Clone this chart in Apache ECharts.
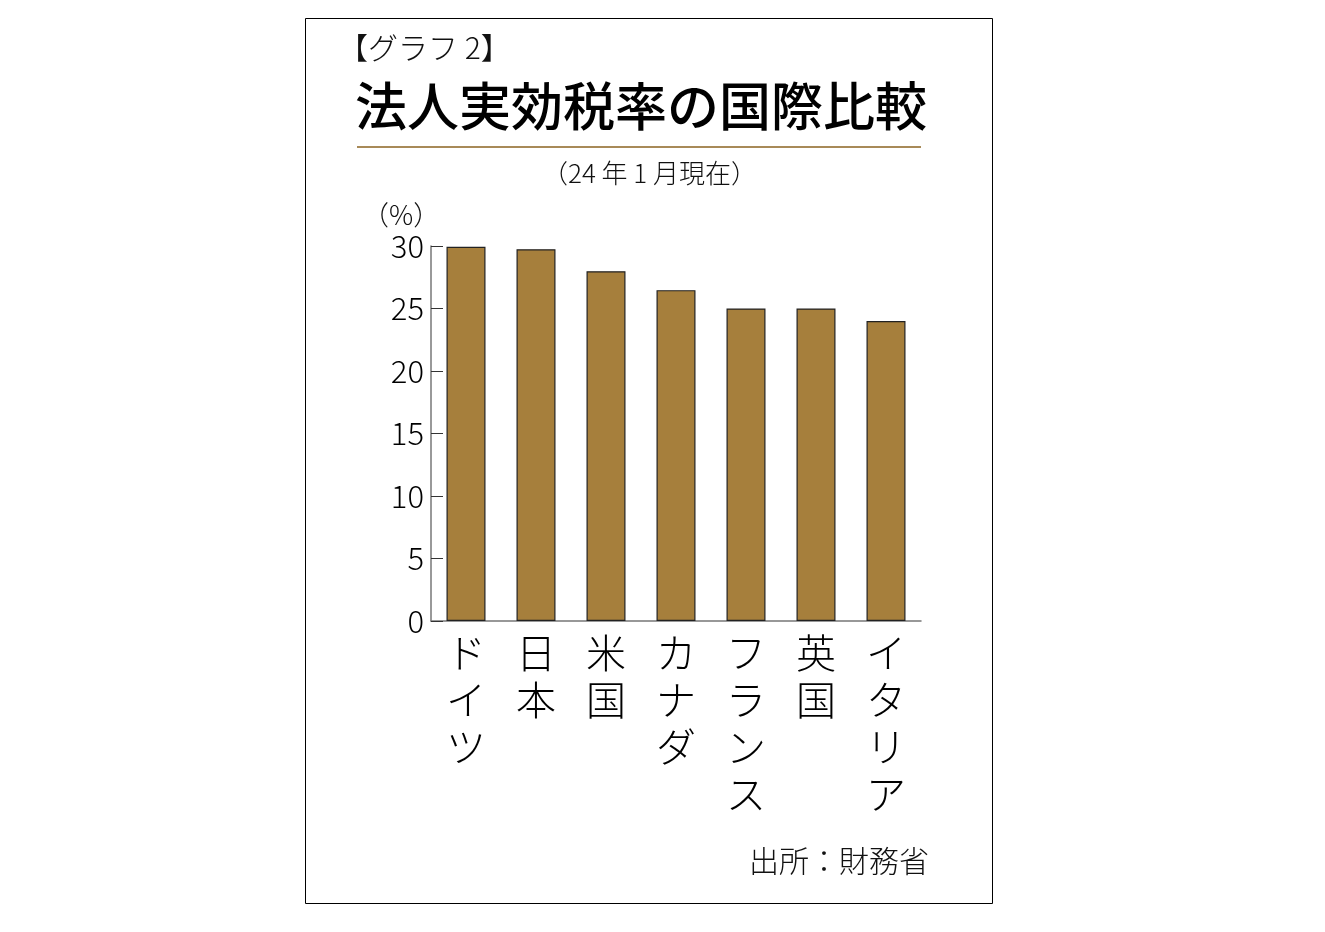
<!DOCTYPE html>
<html>
<head>
<meta charset="utf-8">
<script src="https://cdn.jsdelivr.net/npm/echarts@6/dist/echarts.min.js"></script>
<style>
  html, body { margin: 0; padding: 0; background: #fff; }
  #chart { width: 1325px; height: 932px; }
</style>
</head>
<body>
<div id="chart"></div>
<script>
// --- データ ---
const countries = ['ドイツ', '日本', '米国', 'カナダ', 'フランス', '英国', 'イタリア'];
const taxRates = [29.94, 29.74, 27.98, 26.47, 25.0, 25.0, 24.0];
const yTicks = { min: 0, max: 30, step: 5 };

const FONT = '"Noto Sans CJK JP", "Noto Sans", sans-serif';
const chart = echarts.init(document.getElementById('chart'));

chart.setOption({
  animation: false,
  backgroundColor: '#fff',
  grid: { left: 431, right: 404, top: 246, bottom: 311 },
  graphic: [
    { type: 'rect', shape: { x: 305.5, y: 18.5, width: 687, height: 885 },
      style: { fill: 'none', stroke: '#000', lineWidth: 1 } },
    { type: 'text', left: 338, top: 33,
      style: { text: '【グラフ 2】', font: '300 30px ' + FONT, fill: '#111' } },
    { type: 'text', left: 355, top: 80,
      style: { text: '法人実効税率の国際比較', font: '500 52px ' + FONT, fill: '#000' } },
    { type: 'line', shape: { x1: 357, y1: 147, x2: 921, y2: 147 },
      style: { stroke: '#A88A58', lineWidth: 2 } },
    { type: 'text', left: 542, top: 160,
      style: { text: '（24 年 1 月現在）', font: '300 26px ' + FONT, fill: '#111' } },
    { type: 'text', left: 362, top: 201,
      style: { text: '（%）', font: '300 27px ' + FONT, fill: '#111' } },
    { type: 'text', right: 1325 - 929, top: 846,
      style: { text: '出所：財務省', font: '300 30px ' + FONT, fill: '#111' } },
  ],
  xAxis: {
    type: 'category',
    data: countries,
    axisLine: { lineStyle: { color: '#777', width: 1.5 } },
    axisTick: { inside: true, length: 7, lineStyle: { color: '#555' } },
    axisLabel: {
      interval: 0,
      margin: 8,
      verticalAlign: 'top',
      color: '#000',
      fontFamily: FONT,
      fontWeight: 300,
      fontSize: 40,
      lineHeight: 47,
      formatter: v => v.split('').join('\n'),
    },
  },
  yAxis: {
    type: 'value',
    min: yTicks.min,
    max: yTicks.max,
    interval: yTicks.step,
    axisLine: { show: true, lineStyle: { color: '#777', width: 1.5 } },
    axisTick: { show: true, inside: true, length: 12, lineStyle: { color: '#333' } },
    splitLine: { show: false },
    axisLabel: { color: '#000', fontFamily: FONT, fontWeight: 300, fontSize: 31, margin: 7 },
  },
  series: [{
    type: 'bar',
    data: taxRates,
    barWidth: 39,
    itemStyle: { color: '#A67F3C', borderColor: '#222', borderWidth: 1.2 },
  }],
});
</script>
</body>
</html>
